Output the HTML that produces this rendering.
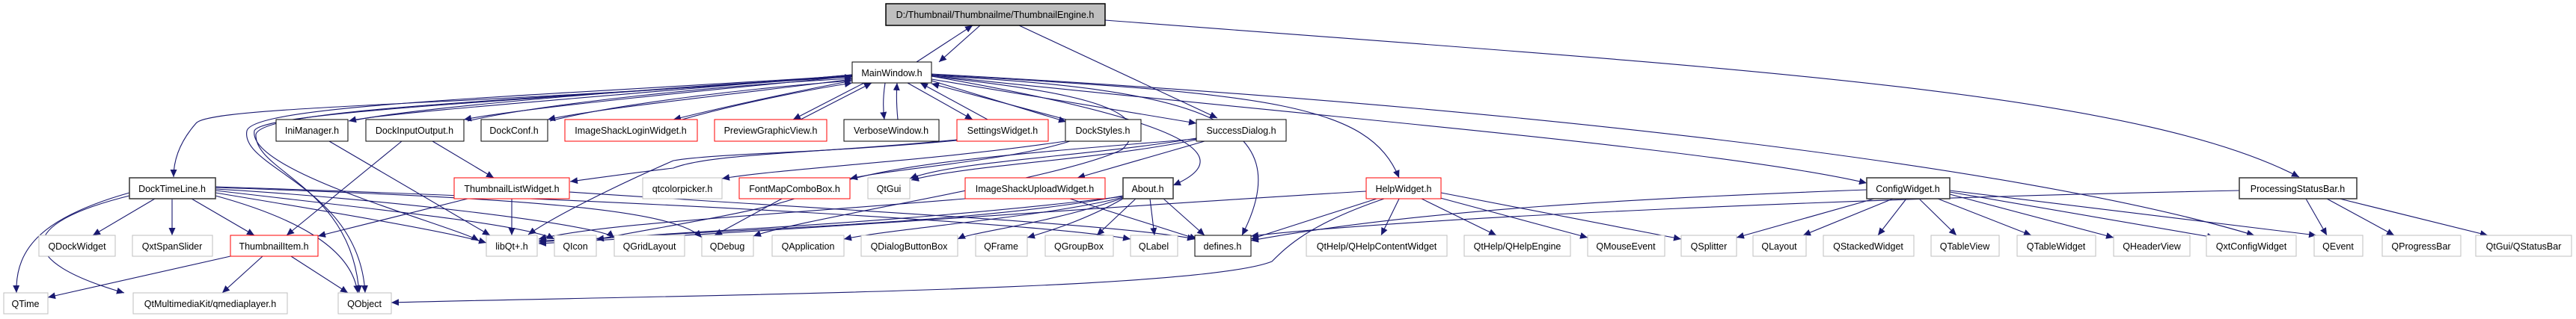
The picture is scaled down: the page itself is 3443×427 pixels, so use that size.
<!DOCTYPE html>
<html><head><meta charset="utf-8"><style>
html,body{margin:0;padding:0;background:#fff;}
svg{display:block;}
text{font-family:"Liberation Sans",Arial,sans-serif;font-size:12.5px;fill:#000;text-anchor:middle;}
.e{fill:none;stroke:#191970;stroke-width:1.1;}
</style></head><body>
<svg width="3443" height="427" viewBox="0 0 3443 427" xmlns="http://www.w3.org/2000/svg">
<defs>
<marker id="a" markerUnits="userSpaceOnUse" markerWidth="11" markerHeight="9" refX="10" refY="4.5" orient="auto">
<path d="M0,0 L10,4.5 L0,9 z" fill="#191970"/>
</marker>
</defs>
<g class="e" marker-end="url(#a)">
<!-- top -->
<path d="M1310,34 L1255,83"/>
<path d="M1225,83 L1300,34"/>
<path d="M1362,34 L1627,158"/>
<path d="M1477,27 C2300,90 2850,120 3073,237"/>
<!-- MainWindow to row2 -->
<path d="M1139,100 C700,140 280,140 262,165 C240,190 232,215 232,237"/>
<path d="M1139,100 C800,130 520,150 466,162"/>
<path d="M470,162 C540,145 900,115 1139,103"/>
<path d="M1139,102 C900,125 700,145 620,160"/>
<path d="M625,162 C720,140 950,115 1139,105"/>
<path d="M1139,106 C950,130 800,145 732,160"/>
<path d="M735,162 C820,140 1000,118 1139,108"/>
<path d="M1139,108 C1050,125 960,145 900,160"/>
<path d="M905,162 C980,140 1080,120 1139,111"/>
<path d="M1155,111 L1060,160"/>
<path d="M1070,160 L1165,111"/>
<path d="M1183,111 C1180,130 1180,145 1182,160"/>
<path d="M1200,160 C1198,140 1198,125 1199,111"/>
<path d="M1213,111 L1300,160"/>
<path d="M1320,160 L1230,111"/>
<path d="M1245,108 L1425,163"/>
<path d="M1425,160 L1245,112"/>
<path d="M1245,106 L1599,165"/>
<path d="M1245,102 C1520,150 1680,200 1568,248"/>
<path d="M1245,101 C1600,120 1740,160 1660,315"/>
<path d="M1245,100 C1700,125 1830,140 1870,238"/>
<path d="M1245,101 C1800,160 2300,200 2495,245"/>
<path d="M1245,99 C2000,140 2700,220 3013,315"/>
<path d="M1245,102 C1400,120 1560,140 1500,200 C1420,240 1080,290 1007,316"/>
<path d="M1139,101 C700,130 340,140 330,175 C320,225 480,250 488,392"/>
<path d="M1139,102 C700,135 350,145 342,180 C340,230 470,250 480,392"/>
<path d="M1139,101 C700,135 350,150 340,175 C330,230 600,300 640,322"/>
<!-- row2 -> row3 -->
<path d="M1279,187 C1100,205 950,205 900,225 C840,232 800,238 762,243"/>
<path d="M1279,188 C1100,205 960,205 900,215 C820,250 740,290 706,314"/>
<path d="M1424,189 C1250,215 1050,225 965,239"/>
<path d="M1430,189 C1350,215 1200,225 1136,239"/>
<path d="M1599,185 C1450,210 1280,215 1216,239"/>
<path d="M1599,187 C1460,215 1300,220 1218,241"/>
<path d="M1610,189 L1440,238"/>
<path d="M1599,186 C1300,210 1200,220 1100,250 C1050,280 900,300 800,320 L720,322"/>
<path d="M440,189 L655,315"/>
<path d="M537,189 L383,315"/>
<path d="M578,189 L660,238"/>
<!-- row3 -> row4/5 -->
<path d="M173,258 C60,290 20,330 22,392"/>
<path d="M173,262 C20,300 20,350 166,392"/>
<path d="M207,266 L124,315"/>
<path d="M230,266 L230,315"/>
<path d="M256,266 L340,315"/>
<path d="M288,262 C390,290 470,330 478,392"/>
<path d="M288,258 C420,280 600,310 650,325"/>
<path d="M288,255 C500,280 700,300 741,320"/>
<path d="M288,253 C500,265 800,300 821,318"/>
<path d="M288,251 C700,265 900,280 938,318"/>
<path d="M288,250 C900,270 1400,300 1511,320"/>
<path d="M625,266 L425,316"/>
<path d="M684,266 L684,315"/>
<path d="M761,257 C1100,280 1500,300 1597,320"/>
<path d="M308,343 L64,398"/>
<path d="M351,343 L297,392"/>
<path d="M389,343 L465,392"/>
<path d="M1045,266 L955,315"/>
<path d="M1290,266 C1000,290 800,300 720,320"/>
<path d="M1430,266 L1600,320"/>
<path d="M1501,262 C1300,300 1000,305 720,324"/>
<path d="M1501,264 C1400,290 1200,305 1128,320"/>
<path d="M1501,265 C1400,300 1300,310 1280,320"/>
<path d="M1501,266 C1450,295 1400,310 1373,318"/>
<path d="M1518,266 L1466,315"/>
<path d="M1537,266 L1543,315"/>
<path d="M1555,266 L1610,315"/>
<path d="M1501,263 C1200,300 900,310 797,320"/>
<path d="M1826,256 C1500,275 1200,300 720,326"/>
<path d="M1840,266 L1672,320"/>
<path d="M1870,266 L1846,315"/>
<path d="M1900,266 L2000,315"/>
<path d="M1925,265 L2122,318"/>
<path d="M1926,258 L2247,320"/>
<path d="M1850,266 C1750,300 1720,330 1700,350 C1600,390 900,395 523,405"/>
<path d="M2495,254 C2200,265 1900,280 1672,322"/>
<path d="M2505,266 L2321,318"/>
<path d="M2530,266 L2410,315"/>
<path d="M2548,266 L2510,315"/>
<path d="M2565,266 L2615,315"/>
<path d="M2590,266 L2715,315"/>
<path d="M2606,260 L2825,318"/>
<path d="M2606,257 L2960,318"/>
<path d="M2606,255 L3096,315"/>
<path d="M2993,255 C2500,265 1900,290 1672,316"/>
<path d="M3082,266 L3110,315"/>
<path d="M3110,266 L3200,315"/>
<path d="M3127,266 L3325,315"/>
</g>
<!-- nodes -->
<g stroke-width="1">
<rect x="1184" y="5" width="293" height="29" fill="#bfbfbf" stroke="#000" stroke-width="1.5"/>
<rect x="1139" y="83" width="106" height="28" fill="#fff" stroke="#000"/>
<rect x="369" y="160" width="96" height="29" fill="#fff" stroke="#000"/>
<rect x="489" y="160" width="131" height="29" fill="#fff" stroke="#000"/>
<rect x="643" y="160" width="89" height="29" fill="#fff" stroke="#000"/>
<rect x="755" y="160" width="177" height="29" fill="#fff" stroke="#f00"/>
<rect x="955" y="160" width="150" height="29" fill="#fff" stroke="#f00"/>
<rect x="1128" y="160" width="127" height="29" fill="#fff" stroke="#000"/>
<rect x="1279" y="160" width="122" height="29" fill="#fff" stroke="#f00"/>
<rect x="1424" y="160" width="101" height="29" fill="#fff" stroke="#000"/>
<rect x="1599" y="160" width="120" height="29" fill="#fff" stroke="#000"/>
<rect x="173" y="238" width="115" height="28" fill="#fff" stroke="#404040" stroke-width="1.6"/>
<rect x="607" y="238" width="154" height="28" fill="#fff" stroke="#f00"/>
<rect x="859" y="238" width="106" height="28" fill="#fff" stroke="#bfbfbf"/>
<rect x="988" y="238" width="148" height="28" fill="#fff" stroke="#f00"/>
<rect x="1160" y="238" width="56" height="28" fill="#fff" stroke="#bfbfbf"/>
<rect x="1290" y="238" width="187" height="28" fill="#fff" stroke="#f00"/>
<rect x="1501" y="238" width="67" height="28" fill="#fff" stroke="#404040" stroke-width="1.6"/>
<rect x="1826" y="238" width="100" height="28" fill="#fff" stroke="#f00"/>
<rect x="2495" y="238" width="111" height="28" fill="#fff" stroke="#404040" stroke-width="1.6"/>
<rect x="2993" y="238" width="157" height="28" fill="#fff" stroke="#404040" stroke-width="1.6"/>
<g fill="#fff" stroke="#bfbfbf">
<rect x="52" y="315" width="102" height="28"/>
<rect x="177" y="315" width="107" height="28"/>
<rect x="650" y="315" width="68" height="28"/>
<rect x="741" y="315" width="56" height="28"/>
<rect x="821" y="315" width="94" height="28"/>
<rect x="938" y="315" width="69" height="28"/>
<rect x="1032" y="315" width="96" height="28"/>
<rect x="1151" y="315" width="129" height="28"/>
<rect x="1304" y="315" width="69" height="28"/>
<rect x="1397" y="315" width="91" height="28"/>
<rect x="1511" y="315" width="63" height="28"/>
<rect x="1746" y="315" width="188" height="28"/>
<rect x="1957" y="315" width="142" height="28"/>
<rect x="2122" y="315" width="103" height="28"/>
<rect x="2247" y="315" width="74" height="28"/>
<rect x="2343" y="315" width="71" height="28"/>
<rect x="2437" y="315" width="121" height="28"/>
<rect x="2581" y="315" width="91" height="28"/>
<rect x="2696" y="315" width="105" height="28"/>
<rect x="2825" y="315" width="102" height="28"/>
<rect x="2949" y="315" width="120" height="28"/>
<rect x="3093" y="315" width="65" height="28"/>
<rect x="3184" y="315" width="105" height="28"/>
<rect x="3309" y="315" width="128" height="28"/>
<rect x="5" y="392" width="59" height="28"/>
<rect x="178" y="392" width="206" height="28"/>
<rect x="452" y="392" width="71" height="28"/>
</g>
<rect x="308" y="315" width="117" height="28" fill="#fff" stroke="#f00"/>
<rect x="1597" y="315" width="75" height="28" fill="#fff" stroke="#000"/>
</g>
<g>
<text x="1330" y="24">D:/Thumbnail/Thumbnailme/ThumbnailEngine.h</text>
<text x="1192" y="102">MainWindow.h</text>
<text x="417" y="179">IniManager.h</text>
<text x="554" y="179">DockInputOutput.h</text>
<text x="687" y="179">DockConf.h</text>
<text x="843" y="179">ImageShackLoginWidget.h</text>
<text x="1030" y="179">PreviewGraphicView.h</text>
<text x="1191" y="179">VerboseWindow.h</text>
<text x="1340" y="179">SettingsWidget.h</text>
<text x="1474" y="179">DockStyles.h</text>
<text x="1659" y="179">SuccessDialog.h</text>
<text x="230" y="257">DockTimeLine.h</text>
<text x="684" y="257">ThumbnailListWidget.h</text>
<text x="912" y="257">qtcolorpicker.h</text>
<text x="1062" y="257">FontMapComboBox.h</text>
<text x="1188" y="257">QtGui</text>
<text x="1383" y="257">ImageShackUploadWidget.h</text>
<text x="1534" y="257">About.h</text>
<text x="1876" y="257">HelpWidget.h</text>
<text x="2550" y="257">ConfigWidget.h</text>
<text x="3071" y="257">ProcessingStatusBar.h</text>
<text x="103" y="334">QDockWidget</text>
<text x="230" y="334">QxtSpanSlider</text>
<text x="366" y="334">ThumbnailItem.h</text>
<text x="684" y="334">libQt+.h</text>
<text x="769" y="334">QIcon</text>
<text x="868" y="334">QGridLayout</text>
<text x="972" y="334">QDebug</text>
<text x="1080" y="334">QApplication</text>
<text x="1215" y="334">QDialogButtonBox</text>
<text x="1338" y="334">QFrame</text>
<text x="1442" y="334">QGroupBox</text>
<text x="1542" y="334">QLabel</text>
<text x="1634" y="334">defines.h</text>
<text x="1840" y="334">QtHelp/QHelpContentWidget</text>
<text x="2028" y="334">QtHelp/QHelpEngine</text>
<text x="2173" y="334">QMouseEvent</text>
<text x="2284" y="334">QSplitter</text>
<text x="2378" y="334">QLayout</text>
<text x="2497" y="334">QStackedWidget</text>
<text x="2626" y="334">QTableView</text>
<text x="2748" y="334">QTableWidget</text>
<text x="2876" y="334">QHeaderView</text>
<text x="3009" y="334">QxtConfigWidget</text>
<text x="3125" y="334">QEvent</text>
<text x="3236" y="334">QProgressBar</text>
<text x="3373" y="334">QtGui/QStatusBar</text>
<text x="34" y="411">QTime</text>
<text x="281" y="411">QtMultimediaKit/qmediaplayer.h</text>
<text x="487" y="411">QObject</text>
</g>
</svg>
</body></html>
